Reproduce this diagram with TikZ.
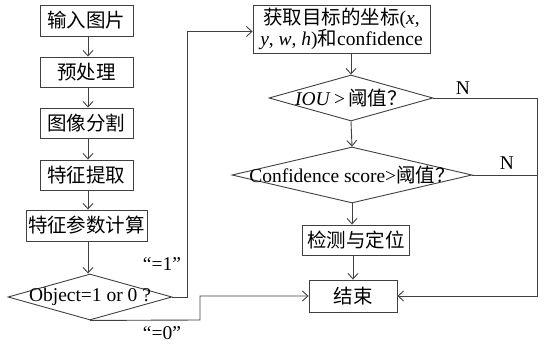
\documentclass[tikz,border=0pt]{standalone}
\usepackage{fontspec}
\setmainfont{Liberation Serif}
\newfontfamily\cjk{Noto Sans CJK SC}
\usetikzlibrary{arrows.meta,shapes.geometric}
\definecolor{ln}{HTML}{404040}
\begin{document}
\begin{tikzpicture}[x=1pt,y=-1pt,
  every node/.style={font=\fontsize{19.5}{22}\selectfont},
  box/.style={draw=ln,line width=0.9pt,rectangle,inner sep=0pt,align=center},
  dia/.style={draw=ln,line width=0.9pt,diamond,inner sep=0pt,minimum width=#1},
  con/.style={draw=ln,line width=0.9pt,-{Straight Barb[length=5.5pt,width=10pt]}},
  lin/.style={draw=ln,line width=0.9pt}]
\useasboundingbox (0,0) rectangle (550,345);
% left column
\node[box,minimum width=93pt,minimum height=31pt] (b1) at (86.5,20.5) {\cjk 输入图片};
\node[box,minimum width=93pt,minimum height=30pt] (b2) at (86.5,72) {\cjk 预处理};
\node[box,minimum width=93pt,minimum height=30pt] (b3) at (86.5,123) {\cjk 图像分割};
\node[box,minimum width=93pt,minimum height=30pt] (b4) at (86.5,175) {\cjk 特征提取};
\node[box,minimum width=121pt,minimum height=31pt] (b5) at (86.5,225.5) {\cjk 特征参数计算};
\node[dia=164pt,minimum height=46pt] (d0) at (90,297) {};
\node (t0) at (90,297) {Object=1 or 0 ?};
% right column
\node[box,minimum width=177pt,minimum height=48pt] (r1) at (341.5,29) {{\cjk 获取目标的坐标}(\textit{x},\\[-1pt]\textit{y}, \textit{w}, \textit{h}){\cjk 和}confidence};
\node[dia=164pt,minimum height=46pt] (d1) at (351,98) {};
\node (t1) at (351,98) {\textit{IOU}\,>\,{\cjk 阈值？}};
\node[dia=240pt,minimum height=56pt] (d2) at (352,175) {};
\node (t2) at (352,175) {Confidence score>{\cjk 阈值？}};
\node[box,minimum width=107pt,minimum height=30pt] (b6) at (356,240) {\cjk 检测与定位};
\node[box,minimum width=88pt,minimum height=32pt] (b7) at (353,296) {\cjk 结束};
% labels
\node (l1) at (162,264) {“=1”};
\node (l0) at (162,333) {“=0”};
\node (n1) at (463,88) {N};
\node (n2) at (507,163) {N};
% connectors
\draw[con] (b1.south -| 88,0) -- (b2.north -| 88,0);
\draw[con] (b2.south -| 88,0) -- (b3.north -| 88,0);
\draw[con] (b3.south -| 88,0) -- (b4.north -| 88,0);
\draw[con] (b4.south -| 88,0) -- (b5.north -| 88,0);
\draw[con] (b5.south -| 88,0) -- (d0.north -| 88,0);
\coordinate (c1) at (187,297);
\coordinate (c2) at (187,31.5);
\draw[con] (d0.east) -- (c1) -- (c2) -- (r1.west |- c2);
\coordinate (c3) at (200,320);
\coordinate (c4) at (200,296);
\draw[con] (d0.south) -- (c3) -- (c4) -- (b7.west);
\draw[con] (r1.south -| d1.north) -- (d1.north);
\draw[con] (d1.south) -- (d2.north);
\draw[con] (d2.south) -- (b6.north -| d2.south);
\draw[con] (b6.south -| b7.north) -- (b7.north);
\coordinate (c5) at (537,98);
\coordinate (c6) at (537,296);
\draw[con] (d1.east) -- (c5) -- (c6) -- (b7.east);
\draw[lin] (d2.east) -- (d2.east -| c5);
\end{tikzpicture}
\end{document}
